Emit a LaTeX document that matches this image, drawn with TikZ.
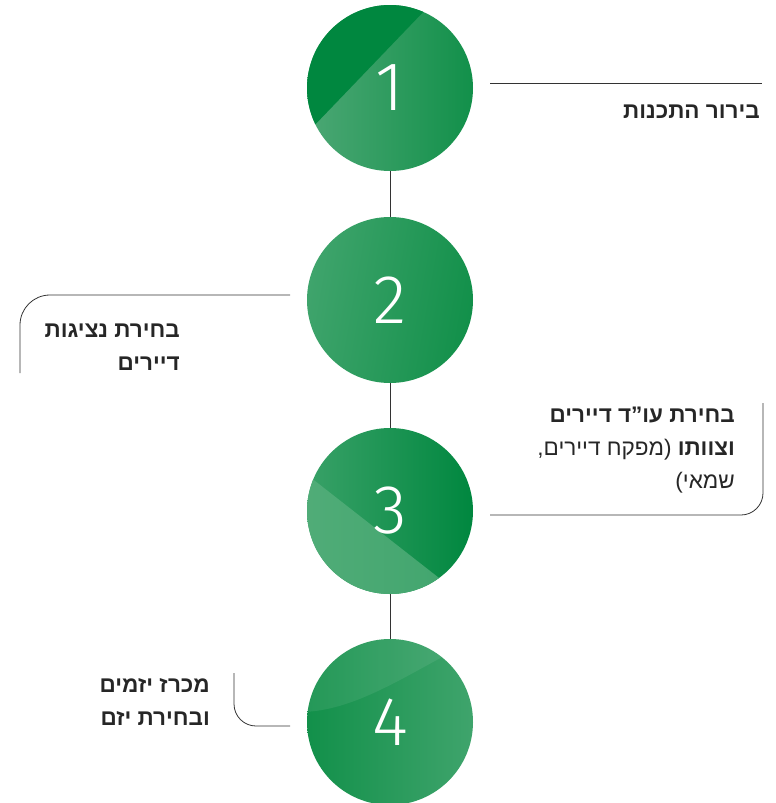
\documentclass[tikz,border=0pt]{standalone}
\usepackage{fontspec}
\setmainfont{Liberation Sans}
\newfontfamily\hebfont[Script=Hebrew]{Liberation Sans}
\IfFontExistsTF{Fira Sans Light}
  {\newfontfamily\numfont{Fira Sans Light}}
  {\newfontfamily\numfont{Fira Sans}}
\TeXXeTstate=1
\usetikzlibrary{positioning}

\definecolor{gDark}{HTML}{00873F}
\definecolor{gDeep}{HTML}{12904A}
\definecolor{gLight}{HTML}{4BA774}
\definecolor{gSoft}{HTML}{3FA46C}
\definecolor{gPale}{HTML}{52AD79}
\definecolor{linkgray}{HTML}{333333}

\tikzset{
  stepcircle/.style={circle, minimum size=166pt, inner sep=0pt, text=white,
    font=\numfont\fontsize{69}{69}\selectfont},
  lbl/.style={font=\hebfont\bfseries\fontsize{22.5}{33}\selectfont, align=right,
    inner sep=0pt, text=black!85},
  link/.style={draw=linkgray, line width=0.8pt}
}

\begin{document}
\begin{tikzpicture}[x=1pt, y=-1pt]
    \useasboundingbox (0,0) rectangle (776,803);

    % Step centres
    \coordinate (p1) at (390,88);
    \coordinate (p2) at (390,300);
    \coordinate (p3) at (390,511);
    \coordinate (p4) at (390,722);

    % Step 1 disc
    \begin{scope}
        \clip (p1) circle (83);
        \shade[left color=gLight, right color=gDeep] (p1) circle (83);
        \fill[gDark] (285,156) -- (452,-18) -- (285,-18) -- cycle;
    \end{scope}

    % Step 2 disc
    \shade[left color=gSoft, right color=gDeep, shading angle=80] (p2) circle (83);

    % Step 3 disc
    \begin{scope}
        \clip (p3) circle (83);
        \shade[left color=gSoft!90!gDark, right color=gDark] (p3) circle (83);
        \shade[left color=gPale, right color=gSoft] (287,459) -- (480,610) -- (287,610) -- cycle;
    \end{scope}

    % Step 4 disc
    \begin{scope}
        \clip (p4) circle (83);
        \shade[left color=gDeep, right color=gSoft] (p4) circle (83);
        \fill[white, opacity=0.08] (300,712) .. controls (360,712) and (420,665) .. (480,638) -- (480,630) -- (300,630) -- cycle;
    \end{scope}

    % Numbers
    \node[stepcircle] (c1) at (p1) {1};
    \node[stepcircle] (c2) at (p2) {2};
    \node[stepcircle] (c3) at (p3) {3};
    \node[stepcircle] (c4) at (p4) {4};

    % Spine
    \draw[link] (c1) -- (c2);
    \draw[link] (c2) -- (c3);
    \draw[link] (c3) -- (c4);

    % Labels
    \node[lbl, anchor=base east] (t1) at (760,118) {\beginR בירור התכנות\endR};
    \node[lbl, anchor=base east] (t2) at (180,370) {\beginR בחירת נציגות\endR\\\beginR דיירים\endR};
    \node[lbl, anchor=base east] (t3) at (735,488) {\beginR בחירת עו”ד דיירים\endR\\\beginR וצוותו {\mdseries (מפקח דיירים,}\endR\\\beginR{\mdseries שמאי)}\endR};
    \node[lbl, anchor=base east] (t4) at (210,725) {\beginR מכרז יזמים\endR\\\beginR ובחירת יזם\endR};

    % Leaders
    \coordinate (a1) at (490,83);
    \coordinate (e1) at (762,83);
    \draw[link] (a1) -- (e1);

    \coordinate (a2) at (290,295);
    \coordinate (e2) at (20,373);
    \draw[link, rounded corners=30] (a2) -- (20,295) -- (e2);

    \coordinate (a3) at (490,515);
    \coordinate (e3) at (763,403);
    \draw[link, rounded corners=22] (a3) -- (763,515) -- (e3);

    \coordinate (a4) at (290,726);
    \coordinate (e4) at (234,673);
    \draw[link, rounded corners=22] (a4) -- (234,726) -- (e4);
\end{tikzpicture}
\end{document}
